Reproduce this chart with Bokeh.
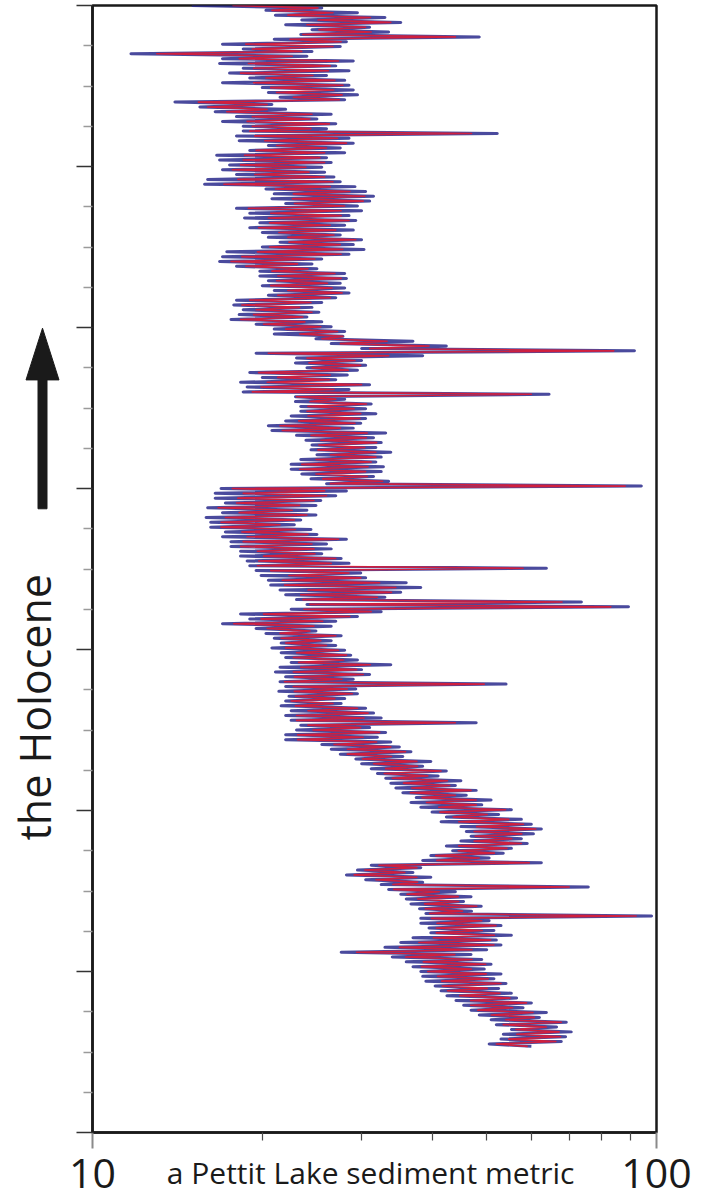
import math
from bokeh.plotting import figure
from bokeh.layouts import row
from bokeh.models import Range1d, FixedTicker
from bokeh.core.properties import value
from bokeh.embed import file_html
from bokeh.resources import INLINE

# ---- data ----
age = [
    0.00, 0.03, 0.06, 0.09, 0.12, 0.15, 0.18, 0.21,
    0.24, 0.27, 0.30, 0.33, 0.36, 0.39, 0.42, 0.45,
    0.48, 0.51, 0.54, 0.57, 0.60, 0.63, 0.66, 0.69,
    0.72, 0.75, 0.78, 0.81, 0.84, 0.87, 0.90, 0.93,
    0.96, 0.99, 1.02, 1.05, 1.08, 1.11, 1.14, 1.17,
    1.20, 1.23, 1.26, 1.29, 1.32, 1.35, 1.38, 1.41,
    1.44, 1.47, 1.50, 1.53, 1.56, 1.59, 1.62, 1.65,
    1.68, 1.71, 1.74, 1.77, 1.80, 1.83, 1.86, 1.89,
    1.92, 1.95, 1.98, 2.01, 2.04, 2.07, 2.10, 2.13,
    2.16, 2.19, 2.22, 2.25, 2.28, 2.31, 2.34, 2.37,
    2.40, 2.43, 2.46, 2.49, 2.52, 2.55, 2.58, 2.61,
    2.64, 2.67, 2.70, 2.73, 2.76, 2.79, 2.82, 2.85,
    2.88, 2.91, 2.94, 2.97, 3.00, 3.03, 3.06, 3.09,
    3.12, 3.15, 3.18, 3.21, 3.24, 3.27, 3.30, 3.33,
    3.36, 3.39, 3.42, 3.45, 3.48, 3.51, 3.54, 3.57,
    3.60, 3.63, 3.66, 3.69, 3.72, 3.75, 3.78, 3.81,
    3.84, 3.87, 3.90, 3.93, 3.96, 3.99, 4.02, 4.05,
    4.08, 4.11, 4.14, 4.17, 4.20, 4.23, 4.26, 4.29,
    4.32, 4.35, 4.38, 4.41, 4.44, 4.47, 4.50, 4.53,
    4.56, 4.59, 4.62, 4.65, 4.68, 4.71, 4.74, 4.77,
    4.80, 4.83, 4.86, 4.89, 4.92, 4.95, 4.98, 5.01,
    5.04, 5.07, 5.10, 5.13, 5.16, 5.19, 5.22, 5.25,
    5.28, 5.31, 5.34, 5.37, 5.40, 5.43, 5.46, 5.49,
    5.52, 5.55, 5.58, 5.61, 5.64, 5.67, 5.70, 5.73,
    5.76, 5.79, 5.82, 5.85, 5.88, 5.91, 5.94, 5.97,
    6.00, 6.03, 6.06, 6.09, 6.12, 6.15, 6.18, 6.21,
    6.24, 6.27, 6.30, 6.33, 6.36, 6.39, 6.42, 6.45,
    6.48, 6.51, 6.54, 6.57, 6.60, 6.63, 6.66, 6.69,
    6.72, 6.75, 6.78, 6.81, 6.84, 6.87, 6.90, 6.93,
    6.96, 6.99, 7.02, 7.05, 7.08, 7.11, 7.14, 7.17,
    7.20, 7.23, 7.26, 7.29, 7.32, 7.35, 7.38, 7.41,
    7.44, 7.47, 7.50, 7.53, 7.56, 7.59, 7.62, 7.65,
    7.68, 7.71, 7.74, 7.77, 7.80, 7.83, 7.86, 7.89,
    7.92, 7.95, 7.98, 8.01, 8.04, 8.07, 8.10, 8.13,
    8.16, 8.19, 8.22, 8.25, 8.28, 8.31, 8.34, 8.37,
    8.40, 8.43, 8.46, 8.49, 8.52, 8.55, 8.58, 8.61,
    8.64, 8.67, 8.70, 8.73, 8.76, 8.79, 8.82, 8.85,
    8.88, 8.91, 8.94, 8.97, 9.00, 9.03, 9.06, 9.09,
    9.12, 9.15, 9.18, 9.21, 9.24, 9.27, 9.30, 9.33,
    9.36, 9.39, 9.42, 9.45, 9.48, 9.51, 9.54, 9.57,
    9.60, 9.63, 9.66, 9.69, 9.72, 9.75, 9.78, 9.81,
    9.84, 9.87, 9.90, 9.93, 9.96, 9.99, 10.02, 10.05,
    10.08, 10.11, 10.14, 10.17, 10.20, 10.23, 10.26, 10.29,
    10.32, 10.35, 10.38, 10.41, 10.44, 10.47, 10.50, 10.53,
    10.56, 10.59, 10.62, 10.65, 10.68, 10.71, 10.74, 10.77,
    10.80, 10.83, 10.86, 10.89, 10.92, 10.95, 10.98, 11.01,
    11.04, 11.07, 11.10, 11.13, 11.16, 11.19, 11.22, 11.25,
    11.28, 11.31, 11.34, 11.37, 11.40, 11.43, 11.46, 11.49,
    11.52, 11.55, 11.58, 11.61, 11.64, 11.67, 11.70, 11.73,
    11.76, 11.79, 11.82, 11.85, 11.88, 11.91, 11.94, 11.97,
    12.00, 12.03, 12.06, 12.09, 12.12, 12.15, 12.18, 12.21,
    12.24, 12.27, 12.30, 12.33, 12.36, 12.39, 12.42, 12.45,
    12.48, 12.51, 12.54, 12.57, 12.60, 12.63, 12.66, 12.69,
    12.72, 12.75, 12.78, 12.81, 12.84, 12.87, 12.90, 12.93,
]

metric_blue = [
    15.0, 25.5, 20.3, 29.5, 21.1, 33.0, 23.5, 35.2,
    22.0, 31.0, 24.5, 33.5, 23.4, 48.5, 21.0, 28.2,
    17.0, 27.5, 18.5, 24.5, 11.7, 24.0, 17.0, 29.0,
    16.8, 27.0, 18.5, 28.5, 17.5, 26.0, 19.0, 28.0,
    17.0, 28.5, 20.0, 29.0, 20.5, 29.5, 21.5, 28.0,
    14.0, 20.8, 15.5, 22.0, 16.5, 26.5, 18.0, 25.0,
    17.0, 27.0, 18.5, 26.0, 18.5, 52.2, 18.0, 28.5,
    18.2, 29.0, 20.5, 27.5, 19.0, 28.0, 16.6, 26.0,
    16.8, 26.5, 17.5, 25.5, 17.0, 25.8, 18.0, 26.8,
    16.0, 27.5, 15.8, 29.2, 20.3, 30.5, 21.0, 31.5,
    20.8, 31.0, 22.0, 29.5, 18.0, 30.0, 19.0, 28.5,
    18.6, 29.3, 19.8, 28.0, 19.0, 29.0, 20.0, 27.5,
    20.5, 30.0, 21.5, 29.0, 20.0, 30.3, 17.3, 28.5,
    17.0, 25.5, 16.8, 24.5, 18.0, 25.0, 19.8, 28.0,
    19.8, 28.2, 20.5, 27.5, 20.0, 28.0, 21.0, 28.5,
    20.5, 27.0, 18.0, 25.5, 17.8, 24.5, 18.5, 25.2,
    18.2, 24.0, 17.6, 25.5, 19.5, 26.5, 21.0, 28.0,
    21.0, 27.8, 24.9, 37.0, 26.5, 42.4, 30.0, 91.4,
    19.5, 38.5, 23.0, 30.0, 22.9, 30.5, 24.0, 29.5,
    19.0, 28.3, 20.0, 27.0, 18.3, 31.0, 18.8, 28.5,
    18.5, 64.5, 22.9, 28.0, 22.9, 31.2, 23.4, 30.5,
    23.4, 31.8, 22.5, 30.5, 22.0, 29.9, 20.5, 29.0,
    20.8, 33.1, 23.0, 31.5, 23.9, 32.5, 24.5, 31.8,
    24.4, 33.8, 25.0, 32.5, 23.4, 31.8, 22.5, 32.8,
    22.5, 32.5, 23.5, 31.5, 24.4, 33.5, 26.0, 94.0,
    16.9, 28.2, 16.5, 27.0, 16.5, 25.4, 17.2, 24.9,
    16.0, 24.0, 17.0, 24.9, 15.9, 23.4, 16.2, 22.8,
    16.2, 24.4, 17.2, 25.0, 17.0, 28.2, 17.6, 26.0,
    17.6, 26.5, 18.3, 25.5, 18.3, 27.6, 18.8, 28.5,
    19.0, 63.8, 19.5, 29.9, 19.9, 30.5, 20.5, 36.0,
    20.7, 38.2, 21.5, 35.2, 22.0, 33.0, 23.0, 73.6,
    24.0, 89.2, 22.5, 32.5, 18.3, 29.5, 19.0, 27.0,
    17.0, 26.5, 19.5, 24.9, 20.3, 27.6, 21.0, 26.5,
    21.6, 27.0, 20.8, 28.0, 21.6, 28.7, 22.0, 29.5,
    22.5, 33.8, 21.5, 30.0, 21.1, 31.0, 22.0, 29.0,
    21.5, 54.1, 22.0, 29.3, 21.4, 29.5, 22.3, 28.0,
    22.0, 27.6, 21.6, 30.5, 22.5, 31.5, 22.0, 32.5,
    22.5, 47.9, 23.4, 31.0, 23.0, 33.1, 22.0, 32.0,
    22.0, 33.8, 25.5, 35.0, 26.5, 36.7, 27.5, 35.5,
    29.3, 39.8, 30.0, 38.5, 31.2, 42.4, 32.0, 41.0,
    33.1, 45.0, 33.8, 44.0, 34.5, 47.9, 35.5, 46.0,
    37.5, 50.9, 36.7, 49.0, 38.2, 55.3, 40.0, 52.5,
    42.4, 57.6, 41.5, 60.0, 45.0, 62.5, 46.0, 60.5,
    46.9, 57.6, 45.0, 59.0, 42.4, 55.3, 43.5, 53.5,
    39.8, 50.5, 38.5, 62.5, 31.2, 38.2, 29.5, 37.0,
    28.2, 39.8, 30.5, 38.5, 32.5, 75.7, 33.5, 44.0,
    35.2, 46.9, 36.0, 45.5, 36.7, 48.9, 38.0, 47.0,
    39.0, 98.0, 38.2, 50.5, 38.2, 53.0, 39.5, 51.5,
    39.8, 55.3, 37.0, 52.0, 35.2, 53.0, 33.0, 50.0,
    27.6, 46.9, 34.0, 49.0, 36.0, 50.9, 37.0, 49.5,
    38.2, 53.0, 38.5, 51.5, 39.0, 54.1, 40.5, 52.5,
    41.5, 55.3, 42.5, 56.5, 44.1, 60.0, 45.5, 58.0,
    46.9, 63.8, 48.5, 62.0, 50.9, 69.2, 52.0, 66.5,
    55.3, 70.6, 53.5, 69.0, 53.0, 67.8, 50.5, 60.0,
]

metric_red = [
    17.7, 25.1, 20.8, 26.7, 22.2, 31.1, 25.1, 33.8,
    24.0, 30.5, 25.2, 31.2, 23.6, 44.0, 22.4, 27.6,
    18.7, 26.7, 19.2, 23.5, 13.0, 22.6, 18.2, 27.3,
    18.9, 26.4, 19.3, 26.2, 18.3, 24.6, 20.3, 26.9,
    19.3, 27.8, 20.7, 26.8, 21.2, 27.7, 22.7, 27.4,
    15.4, 20.4, 16.0, 20.4, 17.3, 24.5, 19.2, 24.3,
    18.8, 26.3, 19.2, 24.4, 19.0, 47.0, 19.4, 27.2,
    20.2, 28.2, 21.2, 26.0, 19.5, 25.8, 18.6, 25.3,
    18.5, 25.8, 18.3, 23.9, 17.7, 24.2, 19.4, 25.8,
    18.1, 26.7, 17.1, 26.4, 21.1, 28.6, 22.7, 30.4,
    22.6, 30.2, 22.8, 28.0, 18.9, 27.6, 20.7, 27.6,
    20.5, 28.5, 20.6, 26.4, 19.7, 27.0, 21.4, 26.8,
    22.2, 29.3, 22.3, 27.5, 20.6, 27.8, 19.6, 27.6,
    18.4, 24.8, 17.6, 23.1, 18.7, 24.1, 20.8, 26.9,
    21.3, 27.6, 21.2, 26.1, 20.7, 26.6, 22.2, 27.7,
    21.3, 26.4, 19.0, 24.4, 18.4, 23.3, 19.5, 24.5,
    19.3, 23.6, 18.3, 23.8, 20.1, 25.4, 22.0, 27.2,
    23.3, 27.8, 25.5, 33.3, 27.5, 39.5, 31.0, 84.0,
    20.5, 33.5, 24.0, 29.2, 24.2, 29.9, 24.5, 28.4,
    19.7, 26.4, 21.3, 26.3, 20.4, 30.0, 19.9, 26.8,
    19.2, 60.0, 23.0, 27.0, 24.3, 30.6, 24.1, 29.1,
    24.0, 29.9, 24.1, 29.8, 23.2, 29.2, 21.5, 27.5,
    21.7, 30.7, 24.4, 30.6, 25.4, 31.9, 25.2, 30.4,
    25.1, 31.8, 26.4, 31.8, 24.9, 31.2, 23.5, 30.8,
    23.3, 30.5, 24.9, 30.7, 25.6, 32.7, 26.4, 88.0,
    17.7, 25.8, 18.5, 26.0, 18.1, 24.7, 18.0, 23.3,
    16.7, 22.6, 18.2, 24.0, 17.2, 22.8, 16.9, 21.5,
    16.9, 22.9, 18.4, 24.1, 18.8, 27.3, 18.5, 24.5,
    18.3, 24.7, 19.6, 24.8, 20.1, 27.0, 19.7, 26.5,
    19.6, 58.0, 20.7, 28.5, 22.3, 29.9, 21.7, 32.3,
    21.9, 34.5, 24.1, 33.9, 23.4, 32.0, 23.6, 68.0,
    24.3, 83.0, 23.7, 31.2, 20.1, 28.6, 19.9, 25.6,
    17.8, 24.7, 20.4, 24.3, 21.5, 27.0, 21.6, 25.4,
    22.0, 26.0, 22.0, 27.3, 23.0, 28.2, 22.7, 27.9,
    23.2, 31.1, 23.4, 29.4, 22.7, 30.2, 22.8, 27.7,
    21.9, 49.5, 22.7, 28.3, 22.8, 28.9, 22.9, 26.9,
    22.5, 26.7, 22.9, 29.5, 24.1, 30.8, 23.0, 30.3,
    23.0, 44.0, 24.1, 29.9, 24.6, 32.3, 23.1, 30.2,
    23.1, 31.9, 26.8, 33.8, 28.3, 35.9, 28.3, 33.9,
    30.1, 37.6, 31.5, 37.7, 33.1, 41.5, 32.9, 39.3,
    34.0, 42.6, 35.6, 43.0, 36.8, 46.9, 36.6, 44.0,
    38.4, 47.9, 39.1, 47.9, 41.1, 54.0, 41.3, 50.1,
    43.6, 54.7, 44.6, 58.1, 48.0, 61.1, 47.5, 57.7,
    47.7, 55.4, 47.5, 57.6, 44.6, 54.3, 44.5, 51.6,
    40.6, 48.5, 40.8, 59.5, 32.2, 37.6, 30.4, 35.8,
    29.1, 37.6, 31.8, 37.7, 34.1, 70.0, 34.2, 41.2,
    36.1, 44.5, 37.7, 44.6, 38.8, 48.0, 38.9, 45.3,
    39.6, 92.0, 39.9, 49.0, 40.8, 51.9, 40.7, 49.1,
    40.7, 51.6, 40.2, 50.8, 37.9, 51.5, 35.0, 47.1,
    29.4, 43.9, 35.9, 47.1, 38.6, 49.8, 38.3, 47.0,
    39.3, 49.9, 40.9, 50.3, 41.6, 53.0, 41.7, 50.1,
    42.6, 52.8, 44.8, 55.0, 46.8, 58.8, 46.8, 55.6,
    48.2, 60.4, 50.9, 60.7, 54.0, 67.8, 53.5, 63.8,
    56.3, 67.2, 56.5, 67.6, 54.7, 66.3, 52.0, 59.1,
]

x_major = [10, 100]
x_minor = [20, 30, 40, 50, 60, 70, 80, 90]
x_labels = {10: "10", 100: "100"}
y_major = [0, 2, 4, 6, 8, 10, 12, 14]
y_minor = [0.5, 1, 1.5, 2.5, 3, 3.5, 4.5, 5, 5.5, 6.5, 7, 7.5, 8.5, 9, 9.5,
           10.5, 11, 11.5, 12.5, 13, 13.5]
title_text = "a  Pettit Lake sediment metric"
side_text = "the Holocene"

n = min(len(age), len(metric_blue), len(metric_red))
age, metric_blue, metric_red = age[:n], metric_blue[:n], metric_red[:n]

H = 1198
LEFT_W = 66
MAIN_W = 639
INK = "#1a1a1a"

# ---- main plot ----
p = figure(width=MAIN_W, height=H, x_axis_type="log",
           x_range=Range1d(10, 100), y_range=Range1d(14, 0),
           output_backend="svg", toolbar_location=None,
           min_border_left=26, min_border_right=49,
           min_border_top=5, min_border_bottom=66)
p.grid.visible = False
p.outline_line_color = INK
p.outline_line_width = 2.5
p.background_fill_color = "white"
p.border_fill_color = "white"

xa = p.xaxis[0]
xa.ticker = FixedTicker(ticks=x_major, minor_ticks=x_minor)
xa.major_label_overrides = x_labels
xa.axis_line_color = INK
xa.axis_line_width = 2.5
xa.major_tick_in = 0
xa.major_tick_out = 16
xa.major_tick_line_color = "#8a8a8a"
xa.major_tick_line_width = 2
xa.minor_tick_in = 0
xa.minor_tick_out = 8
xa.minor_tick_line_color = "#4a4a4a"
xa.minor_tick_line_width = 1.2
xa.major_label_standoff = 10
xa.major_label_text_font = "Open Sans"
xa.major_label_text_font_size = "41px"
xa.major_label_text_color = INK
xa.axis_label = title_text
xa.axis_label_standoff = -39
xa.axis_label_text_font = "Open Sans"
xa.axis_label_text_font_size = "30px"
xa.axis_label_text_font_style = "normal"
xa.axis_label_text_color = INK

ya = p.yaxis[0]
ya.ticker = FixedTicker(ticks=y_major, minor_ticks=y_minor)
ya.major_label_overrides = {t: "" for t in y_major}
ya.major_label_standoff = 0
ya.axis_line_color = INK
ya.axis_line_width = 2.5
ya.major_tick_in = 0
ya.major_tick_out = 16
ya.major_tick_line_color = "#333333"
ya.major_tick_line_width = 1.5
ya.minor_tick_in = 0
ya.minor_tick_out = 9
ya.minor_tick_line_color = "#9a9a9a"
ya.minor_tick_line_width = 1.5

p.line(x=metric_blue, y=age, line_color="#2a2a8c", line_width=3.0,
       line_alpha=0.85, line_join="round")
p.line(x=metric_red, y=age, line_color="#e8182e", line_width=1.6,
       line_alpha=0.85, line_join="round")

# ---- left strip: arrow and caption (pixel coordinates) ----
left = figure(width=LEFT_W, height=H, x_range=Range1d(0, LEFT_W),
              y_range=Range1d(H, 0), output_backend="svg",
              toolbar_location=None, min_border=0,
              x_axis_location=None, y_axis_location=None)
left.grid.visible = False
left.outline_line_color = None
left.background_fill_color = "white"
left.border_fill_color = "white"

arrow_x = [42, 58.5, 46.5, 46.5, 37.5, 37.5, 25.5]
arrow_y = [343, 398, 398, 535, 535, 398, 398]
left.patch(x=arrow_x, y=arrow_y, fill_color=INK, line_color=INK)
left.text(x=[34], y=[746], text=[side_text], angle=math.pi / 2,
          text_align="center", text_baseline="alphabetic",
          text_font=value("Open Sans"), text_font_size=value("43px"),
          text_color=INK)

layout = row(left, p, spacing=0)
open("out.html", "w").write(file_html(layout, INLINE))
